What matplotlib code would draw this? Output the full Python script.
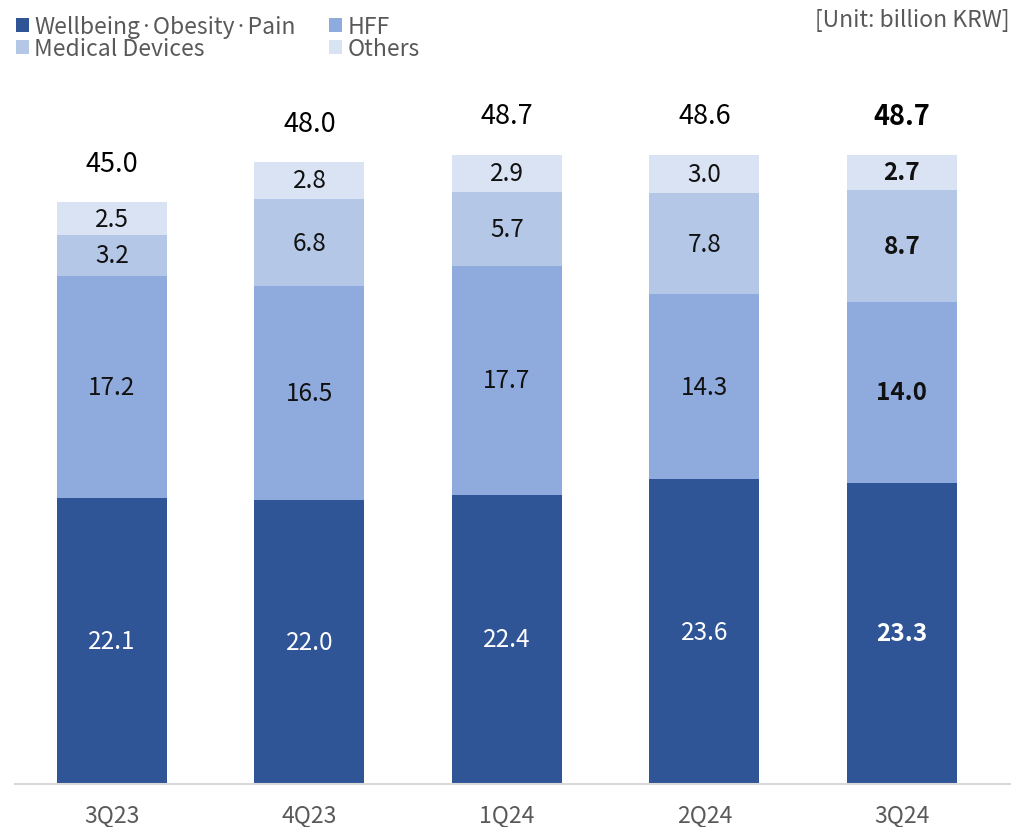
import matplotlib.pyplot as plt
from matplotlib.patches import Patch
import numpy as np

plt.rcParams['font.family'] = ['Noto Sans CJK KR', 'DejaVu Sans']

quarters = ['3Q23', '4Q23', '1Q24', '2Q24', '3Q24']
wellbeing = [22.1, 22.0, 22.4, 23.6, 23.3]
hff = [17.2, 16.5, 17.7, 14.3, 14.0]
medical = [3.2, 6.8, 5.7, 7.8, 8.7]
others = [2.5, 2.8, 2.9, 3.0, 2.7]
totals = [45.0, 48.0, 48.7, 48.6, 48.7]

series = [
    ('Wellbeing·Obesity·Pain', wellbeing, '#2F5597', 'white'),
    ('HFF', hff, '#8FAADC', '#111111'),
    ('Medical Devices', medical, '#B4C7E7', '#111111'),
    ('Others', others, '#DAE3F3', '#111111'),
]

fig = plt.figure(figsize=(10.15, 8.28), dpi=100)
ax = fig.add_axes([15 / 1015, 43 / 828, 995 / 1015, 725 / 828])

x = np.arange(len(quarters))
width = 0.557
bottom = np.zeros(len(quarters))
for name, vals, color, tcolor in series:
    vals = np.array(vals)
    ax.bar(x, vals, width, bottom=bottom, color=color, edgecolor='none')
    for i, v in enumerate(vals):
        ax.text(x[i], bottom[i] + v / 2, f'{v:.1f}', ha='center', va='center',
                fontsize=17.5, color=tcolor,
                fontweight='bold' if i == len(quarters) - 1 else 'normal')
    bottom += vals

for i, t in enumerate(totals):
    ax.text(x[i], bottom[i] + 3.0, f'{t:.1f}', ha='center', va='center',
            fontsize=19.5, color='black',
            fontweight='bold' if i == len(quarters) - 1 else 'normal')

ax.set_xlim(-0.491, 4.547)
ax.set_ylim(0, 56.1)
ax.set_xticks(x)
ax.set_xticklabels(quarters, fontsize=16.5, color='#595959')
ax.tick_params(axis='x', length=0, pad=14)
ax.set_yticks([])
for side in ['top', 'left', 'right']:
    ax.spines[side].set_visible(False)
ax.spines['bottom'].set_color('#D9D9D9')
ax.spines['bottom'].set_linewidth(1.5)

handles = [Patch(facecolor=c, edgecolor='none') for _, _, c, _ in series]
labels = [n for n, _, _, _ in series]
# order so columns read: Wellbeing / Medical | HFF / Others
order = [0, 2, 1, 3]
fig.legend([handles[k] for k in order], [labels[k] for k in order],
           loc='upper left', bbox_to_anchor=(0.0, 1.0), ncol=2, frameon=False,
           fontsize=16.5, labelcolor='#595959', handlelength=0.55, handleheight=0.55,
           handletextpad=0.25, labelspacing=-0.05, columnspacing=1.45,
           borderaxespad=0.3)

fig.text(1010 / 1015, 1 - 20 / 828, '[Unit: billion KRW]', ha='right', va='center',
         fontsize=16.5, color='#595959')

fig.savefig('out.png', dpi=100)
